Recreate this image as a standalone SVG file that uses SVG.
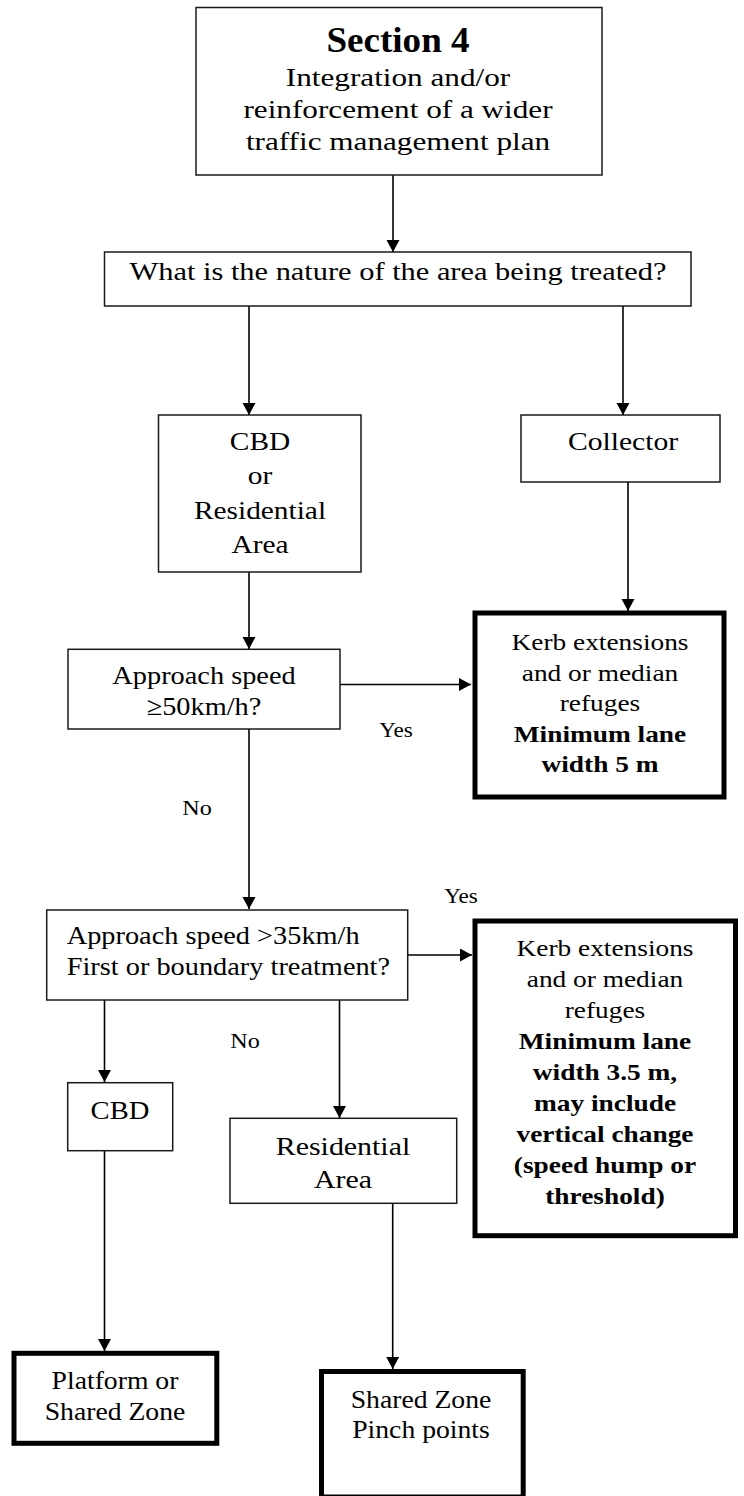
<svg xmlns="http://www.w3.org/2000/svg" width="744" height="1496" viewBox="0 0 744 1496">
  <style>
    .box{fill:#fff;stroke:#1a1a1a;stroke-width:1.5}
    .heavy{fill:#fff;stroke:#000;stroke-width:5}
    .wire{fill:none;stroke:#000;stroke-width:1.6}
    text{font-family:"Liberation Serif","Times New Roman",serif;fill:#000}
    .t{font-size:26px;text-anchor:middle}
    .s{font-size:24px;text-anchor:middle}
    .l{font-size:26px;text-anchor:start}
    .b{font-weight:bold}
    .lbl{font-size:21px;text-anchor:middle}
  </style>
  <defs>
    <marker id="arrow" markerUnits="userSpaceOnUse" markerWidth="13" markerHeight="14" refX="12" refY="6.5" orient="auto">
      <path d="M0,0 L12,6.5 L0,13 z" fill="#000"/>
    </marker>
  </defs>

  <rect width="744" height="1496" fill="#fff"/>

  <!-- connectors -->
  <g id="connectors">
    <line class="wire" x1="393" y1="175" x2="393" y2="252" marker-end="url(#arrow)"/>
    <line class="wire" x1="249" y1="306" x2="249" y2="415" marker-end="url(#arrow)"/>
    <line class="wire" x1="623" y1="306" x2="623" y2="415" marker-end="url(#arrow)"/>
    <line class="wire" x1="628" y1="482" x2="628" y2="611" marker-end="url(#arrow)"/>
    <line class="wire" x1="249" y1="572" x2="249" y2="649" marker-end="url(#arrow)"/>
    <line class="wire" x1="340" y1="684.5" x2="471" y2="684.5" marker-end="url(#arrow)"/>
    <line class="wire" x1="249" y1="729" x2="249" y2="909" marker-end="url(#arrow)"/>
    <line class="wire" x1="408" y1="955" x2="472" y2="955" marker-end="url(#arrow)"/>
    <line class="wire" x1="104.5" y1="1000" x2="104.5" y2="1082" marker-end="url(#arrow)"/>
    <line class="wire" x1="339.5" y1="1000" x2="339.5" y2="1118" marker-end="url(#arrow)"/>
    <line class="wire" x1="104.5" y1="1151" x2="104.5" y2="1351" marker-end="url(#arrow)"/>
    <line class="wire" x1="392.7" y1="1203" x2="392.7" y2="1369" marker-end="url(#arrow)"/>
  </g>

  <!-- edge labels -->
  <g id="labels">
    <text class="lbl" transform="translate(396 0) scale(1.1 1)" x="0" y="737">Yes</text>
    <text class="lbl" transform="translate(197 0) scale(1.15 1)" x="0" y="815">No</text>
    <text class="lbl" transform="translate(461 0) scale(1.1 1)" x="0" y="903">Yes</text>
    <text class="lbl" transform="translate(245 0) scale(1.15 1)" x="0" y="1048">No</text>
  </g>

  <g id="section4">
    <rect class="box" x="196" y="7.5" width="406" height="167.5"/>
    <text class="t b" style="font-size:35px" transform="translate(398 0) scale(1.06 1)" x="0" y="52">Section 4</text>
    <g transform="translate(398 0) scale(1.2 1)">
      <text class="t" x="0" y="86">Integration and/or</text>
      <text class="t" x="0" y="118">reinforcement of a wider</text>
      <text class="t" x="0" y="150">traffic management plan</text>
    </g>
  </g>

  <g id="area-question">
    <rect class="box" x="104.5" y="252" width="586.5" height="54"/>
    <text class="t" transform="translate(398 0) scale(1.17 1)" x="0" y="280">What is the nature of the area being treated?</text>
  </g>

  <g id="cbd-or-residential">
    <rect class="box" x="158.5" y="415" width="202.5" height="157"/>
    <g transform="translate(260 0) scale(1.13 1)">
      <text class="t" x="0" y="450">CBD</text>
      <text class="t" x="0" y="484.5">or</text>
      <text class="t" x="0" y="519">Residential</text>
      <text class="t" x="0" y="553">Area</text>
    </g>
  </g>

  <g id="collector">
    <rect class="box" x="521" y="415" width="199" height="67"/>
    <text class="t" transform="translate(623 0) scale(1.14 1)" x="0" y="450">Collector</text>
  </g>

  <g id="speed-50">
    <rect class="box" x="68" y="649.3" width="272" height="79.7"/>
    <g transform="translate(204 0) scale(1.09 1)">
      <text class="t" x="0" y="684">Approach speed</text>
      <text class="t" x="0" y="715">≥50km/h?</text>
    </g>
  </g>

  <g id="kerb-5m">
    <rect class="heavy" x="475" y="613" width="249" height="184"/>
    <g transform="translate(600 0) scale(1.14 1)">
      <text class="s" x="0" y="650">Kerb extensions</text>
      <text class="s" x="0" y="680.7">and or median</text>
      <text class="s" x="0" y="711">refuges</text>
      <text class="s b" x="0" y="741.7">Minimum lane</text>
      <text class="s b" x="0" y="771.7">width 5 m</text>
    </g>
  </g>

  <g id="speed-35">
    <rect class="box" x="46.7" y="910" width="361" height="90"/>
    <g transform="translate(66.7 0) scale(1.09 1)">
      <text class="l" x="0" y="944">Approach speed &gt;35km/h</text>
      <text class="l" x="0" y="975">First or boundary treatment?</text>
    </g>
  </g>

  <g id="kerb-3-5m">
    <rect class="heavy" x="475" y="921" width="260.5" height="314.7"/>
    <g transform="translate(605 0) scale(1.14 1)">
      <text class="s" x="0" y="956">Kerb extensions</text>
      <text class="s" x="0" y="987">and or median</text>
      <text class="s" x="0" y="1018">refuges</text>
      <text class="s b" x="0" y="1049">Minimum lane</text>
      <text class="s b" x="0" y="1080">width 3.5 m,</text>
      <text class="s b" x="0" y="1111">may include</text>
      <text class="s b" x="0" y="1142">vertical change</text>
      <text class="s b" x="0" y="1173">(speed hump or</text>
      <text class="s b" x="0" y="1204">threshold)</text>
    </g>
  </g>

  <g id="cbd">
    <rect class="box" x="67.7" y="1082.7" width="105" height="68"/>
    <text class="t" transform="translate(120 0) scale(1.1 1)" x="0" y="1119">CBD</text>
  </g>

  <g id="residential">
    <rect class="box" x="230" y="1118.3" width="226.7" height="85"/>
    <g transform="translate(343 0) scale(1.15 1)">
      <text class="t" x="0" y="1155">Residential</text>
      <text class="t" x="0" y="1188">Area</text>
    </g>
  </g>

  <g id="platform">
    <rect class="heavy" x="14" y="1353.3" width="202.8" height="90"/>
    <g transform="translate(115 0) scale(1.065 1)">
      <text class="t" x="0" y="1389">Platform or</text>
      <text class="t" x="0" y="1420">Shared Zone</text>
    </g>
  </g>

  <g id="shared-zone">
    <rect class="heavy" x="321.5" y="1371.5" width="201.7" height="125.5"/>
    <g transform="translate(421 0) scale(1.065 1)">
      <text class="t" x="0" y="1408">Shared Zone</text>
      <text class="t" x="0" y="1438">Pinch points</text>
    </g>
  </g>
</svg>
